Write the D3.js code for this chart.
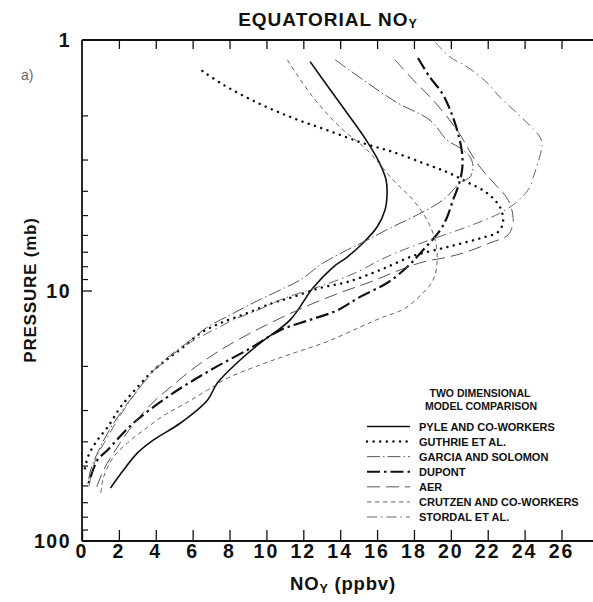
<!DOCTYPE html>
<html>
<head>
<meta charset="utf-8">
<script src="https://cdn.jsdelivr.net/npm/d3@7"></script>
<style>
  html, body { margin: 0; padding: 0; background: #fff; }
  svg { display: block; font-family: "Liberation Sans", Arial, Helvetica, sans-serif; }
</style>
</head>
<body>
<svg id="chart" width="593" height="602"></svg>
<script>
// Equatorial NOy profiles from seven two-dimensional models: [NOy (ppbv), pressure (mb)]
const pyle = [
  [12.37,1.22],[13.46,1.58],[14.49,2.01],[15.41,2.51],[16.11,3.07],[16.49,3.62],[16.54,4.16],
  [16.43,4.77],[16.00,5.58],[15.24,6.46],[14.38,7.35],[13.62,8.06],[12.52,9.77],[11.29,13.1],
  [9.67,16.2],[8.59,18.9],[7.34,23.4],[6.80,27.4],[5.34,33.8],[3.88,39.5],[3.01,44.5],
  [2.25,52.1],[1.55,61.4]
];
const guthrie = [
  [6.53,1.33],[7.67,1.51],[9.51,1.78],[11.45,2.05],[13.29,2.29],[15.24,2.58],[16.87,2.80],
  [18.50,3.10],[19.80,3.37],[20.88,3.69],[21.96,4.08],[22.66,4.64],[22.83,5.33],[22.56,5.84],
  [21.65,6.17],[20.66,6.46],[19.58,6.77],[17.95,7.28],[16.17,8.28],[14.38,9.25],[12.90,9.77],
  [11.45,10.6],[10.37,11.2],[8.97,12.3],[7.50,13.5],[6.42,14.8],[5.50,16.8],[4.80,18.4],
  [3.88,20.8],[3.01,24.3],[2.09,29.2],[1.39,35.1],[0.84,39.5],[0.36,45.4],[0.14,52.1]
];
const garcia = [
  [13.73,1.20],[15.46,1.48],[17.09,1.78],[18.87,2.09],[19.80,2.51],[20.50,2.70],[21.04,2.93],
  [21.20,3.21],[21.04,3.52],[20.50,3.72],[19.58,4.35],[17.95,5.09],[16.71,5.63],[15.46,6.29],
  [14.38,6.89],[13.07,7.77],[11.83,9.08],[10.75,9.95],[9.29,11.2],[8.05,12.5],[6.80,14.0],
  [5.88,15.8],[4.80,18.1],[3.88,20.8],[3.01,25.0],[2.09,30.8],[1.39,37.1],[0.84,44.5],
  [0.47,52.1],[0.30,60.8]
];
const dupont = [
  [18.22,1.18],[18.87,1.41],[19.53,1.63],[19.96,1.90],[20.34,2.29],[20.61,2.83],[20.61,3.30],
  [20.39,3.86],[20.12,4.35],[19.80,5.09],[19.43,5.73],[18.50,6.89],[17.63,8.06],[16.54,9.33],
  [15.08,10.6],[13.84,12.0],[12.36,13.1],[10.75,14.4],[9.13,17.0],[6.96,20.8],[4.80,26.1],
  [2.79,33.8],[1.39,43.3],[0.84,47.5],[0.36,58.7]
];
const aer = [
  [16.98,1.20],[17.95,1.44],[19.04,1.74],[20.34,2.29],[21.42,3.10],[22.28,3.69],[23.04,4.27],
  [23.31,4.77],[23.37,5.38],[23.10,6.00],[22.12,6.46],[20.66,7.09],[19.58,7.42],[18.50,7.69],
  [17.09,8.36],[15.63,9.25],[14.00,10.2],[12.36,11.4],[10.75,12.9],[9.13,14.8],[7.50,17.3],
  [6.15,20.2],[4.80,24.3],[3.71,28.6],[2.63,35.4],[1.82,43.3],[1.17,52.1],[0.74,62.5]
];
const crutzen = [
  [11.13,1.20],[12.52,1.69],[14.00,2.23],[15.46,2.75],[16.87,3.62],[17.95,4.35],[18.71,5.23],
  [19.15,6.29],[19.26,7.55],[19.04,9.08],[18.33,10.5],[17.41,11.9],[16.17,12.9],[15.08,14.0],
  [13.29,16.0],[11.45,17.8],[9.67,19.8],[7.88,22.4],[6.80,25.0],[5.61,28.2],[4.48,31.4],
  [3.34,36.1],[2.47,40.6],[1.71,46.2],[1.17,55.6],[1.01,65.5]
];
const stordal = [
  [19.15,1.02],[19.96,1.17],[20.88,1.28],[21.96,1.48],[22.66,1.69],[23.59,1.96],[24.83,2.44],
  [24.94,2.63],[24.72,3.10],[24.45,3.56],[24.29,3.86],[23.59,4.43],[22.66,4.91],[21.42,5.38],
  [19.96,5.89],[18.71,6.34],[17.41,6.89],[16.17,7.55],[14.92,8.44],[13.45,9.33],[12.21,10.0],
  [10.75,10.9],[9.51,12.0],[8.21,13.1],[6.96,14.6],[5.88,16.1],[4.80,18.3],[3.71,21.7],
  [2.90,25.7],[2.09,31.4],[1.39,38.4],[0.84,45.4],[0.57,52.1],[0.36,61.4]
];

const modelNames = [
  "PYLE AND CO-WORKERS", "GUTHRIE ET AL.", "GARCIA AND SOLOMON", "DUPONT",
  "AER", "CRUTZEN AND CO-WORKERS", "STORDAL ET AL."
];
const xTickValues = [0, 2, 4, 6, 8, 10, 12, 14, 16, 18, 20, 22, 24, 26];
const yTickLabels = [1, 10, 100];

// Stroke styles for each model line
const styles = [
  { color: "#111", width: 1.6, dash: null, cap: "butt" },
  { color: "#111", width: 2.5, dash: "0.01 6.6", cap: "round" },
  { color: "#555", width: 1.0, dash: "13 3 1.5 3", cap: "butt" },
  { color: "#111", width: 2.2, dash: "13 4 2.5 4", cap: "butt" },
  { color: "#555", width: 1.0, dash: "13 6", cap: "butt" },
  { color: "#666", width: 1.0, dash: "4.5 3.5", cap: "butt" },
  { color: "#666", width: 1.0, dash: "10 4 1.5 4", cap: "butt" }
];
const series = [pyle, guthrie, garcia, dupont, aer, crutzen, stordal];

const plotLeft = 82, plotRight = 593, plotTop = 40, plotBottom = 541;

const svg = d3.select("#chart");
const x = d3.scaleLinear().domain([0, 27.6]).range([plotLeft, 591]);
const y = d3.scaleLog().domain([1, 100]).range([plotTop, plotBottom]);

// Frame: top line, bottom line and left axis line
const frame = svg.append("g").attr("stroke", "#111").attr("fill", "none");
frame.append("line").attr("x1", plotLeft).attr("x2", plotRight).attr("y1", plotTop).attr("y2", plotTop).attr("stroke-width", 1.8);
frame.append("line").attr("x1", plotLeft).attr("x2", plotRight).attr("y1", plotBottom).attr("y2", plotBottom).attr("stroke-width", 1.8);
frame.append("line").attr("x1", plotLeft).attr("x2", plotLeft).attr("y1", plotTop).attr("y2", plotBottom).attr("stroke-width", 1.8);

// Bottom axis with labels
const xAxis = d3.axisTop(x).tickValues(xTickValues).tickSize(11).tickFormat("");
svg.append("g").attr("transform", `translate(0,${plotBottom})`).call(xAxis)
  .call(g => g.select(".domain").remove())
  .call(g => g.selectAll("line").attr("stroke", "#111").attr("stroke-width", 1.3));
svg.append("g").selectAll("text").data(xTickValues).join("text")
  .attr("x", d => x(d)).attr("y", 558)
  .attr("text-anchor", "middle")
  .attr("font-size", 19.5).attr("font-weight", "bold").attr("letter-spacing", 2)
  .attr("fill", "#111")
  .text(d => d);

// Top axis ticks (no labels)
const xTopAxis = d3.axisBottom(x).tickValues(xTickValues.slice(1)).tickSize(9).tickFormat("");
svg.append("g").attr("transform", `translate(0,${plotTop})`).call(xTopAxis)
  .call(g => g.select(".domain").remove())
  .call(g => g.selectAll("line").attr("stroke", "#111").attr("stroke-width", 1.3));

// Left log axis: minor ticks 2..9 in each decade, major tick at 10
const minorTicks = [];
[1, 10].forEach(dec => { for (let k = 2; k <= 9; k++) minorTicks.push(dec * k); });
const yAxis = d3.axisRight(y).tickValues(minorTicks).tickSize(6).tickFormat("");
svg.append("g").attr("transform", `translate(${plotLeft},0)`).call(yAxis)
  .call(g => g.select(".domain").remove())
  .call(g => g.selectAll("line").attr("stroke", "#111").attr("stroke-width", 1.2));
const yMajor = d3.axisRight(y).tickValues([10]).tickSize(10).tickFormat("");
svg.append("g").attr("transform", `translate(${plotLeft},0)`).call(yMajor)
  .call(g => g.select(".domain").remove())
  .call(g => g.selectAll("line").attr("stroke", "#111").attr("stroke-width", 1.3));

svg.append("g").selectAll("text").data(yTickLabels).join("text")
  .attr("x", 71).attr("y", d => y(d) + 7)
  .attr("text-anchor", "end")
  .attr("font-size", 19.5).attr("font-weight", "bold").attr("letter-spacing", 1.5)
  .attr("fill", "#111")
  .text(d => d);

// Model curves
const line = d3.line()
  .x(d => x(d[0]))
  .y(d => y(d[1]))
  .curve(d3.curveCatmullRom.alpha(0.5));

const curves = svg.append("g").attr("fill", "none");
series.forEach((s, i) => {
  const st = styles[i];
  curves.append("path")
    .attr("d", line(s))
    .attr("stroke", st.color)
    .attr("stroke-width", st.width)
    .attr("stroke-dasharray", st.dash)
    .attr("stroke-linecap", st.cap);
});

// Title
const title = svg.append("text")
  .attr("x", 328).attr("y", 26)
  .attr("text-anchor", "middle")
  .attr("font-size", 19).attr("font-weight", "bold").attr("letter-spacing", 1)
  .attr("fill", "#111");
title.append("tspan").text("EQUATORIAL NO");
title.append("tspan").attr("font-size", 12.5).attr("dy", 2).text("Y");

// Panel tag
svg.append("text").attr("x", 21).attr("y", 80)
  .attr("font-size", 14).attr("fill", "#666").text("a)");

// Axis titles
const xTitle = svg.append("text")
  .attr("x", 343).attr("y", 590)
  .attr("text-anchor", "middle")
  .attr("font-size", 18.5).attr("font-weight", "bold").attr("letter-spacing", 0.8)
  .attr("fill", "#111");
xTitle.append("tspan").text("NO");
xTitle.append("tspan").attr("font-size", 12.5).attr("dy", 3).text("Y");
xTitle.append("tspan").attr("dy", -3).text(" (ppbv)");

svg.append("text")
  .attr("transform", "translate(36,290) rotate(-90)")
  .attr("text-anchor", "middle")
  .attr("font-size", 17).attr("font-weight", "bold").attr("letter-spacing", 0.8)
  .attr("fill", "#111")
  .text("PRESSURE (mb)");

// Legend
const legend = svg.append("g");
legend.append("text").attr("x", 480).attr("y", 397)
  .attr("text-anchor", "middle").attr("font-size", 10.5).attr("font-weight", "bold")
  .attr("fill", "#111").text("TWO DIMENSIONAL");
legend.append("text").attr("x", 481).attr("y", 410)
  .attr("text-anchor", "middle").attr("font-size", 10.5).attr("font-weight", "bold")
  .attr("fill", "#111").text("MODEL COMPARISON");

const rowY = d3.scaleLinear().domain([0, 6]).range([426.5, 517]);
modelNames.forEach((name, i) => {
  const st = styles[i];
  const yy = rowY(i);
  legend.append("line")
    .attr("x1", 367).attr("x2", 410).attr("y1", yy).attr("y2", yy)
    .attr("stroke", st.color).attr("stroke-width", st.width)
    .attr("stroke-dasharray", st.dash).attr("stroke-linecap", st.cap);
  legend.append("text")
    .attr("x", 419).attr("y", yy + 4)
    .attr("font-size", 11).attr("font-weight", "bold")
    .attr("fill", "#111").text(name);
});
</script>
</body>
</html>
